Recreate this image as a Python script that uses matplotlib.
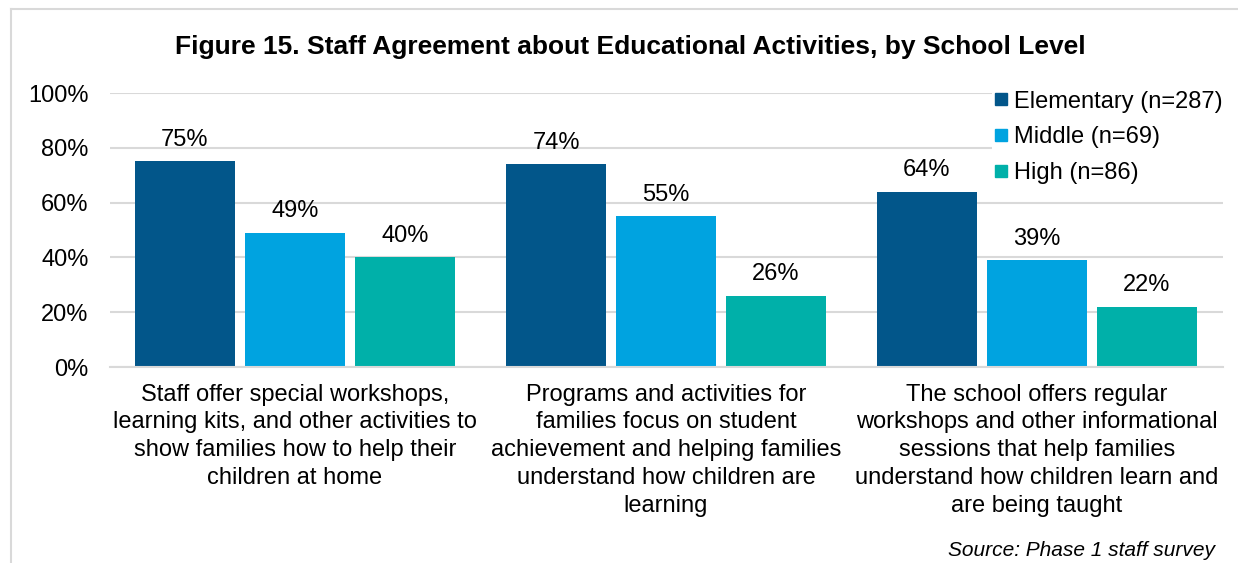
import numpy as np
import matplotlib.pyplot as plt
from matplotlib.lines import Line2D

plt.rcParams['font.family'] = ['Liberation Sans', 'DejaVu Sans']

categories = [
    "Staff offer special workshops,\nlearning kits, and other activities to\nshow families how to help their\nchildren at home",
    "Programs and activities for\nfamilies focus on student\nachievement and helping families\nunderstand how children are\nlearning",
    "The school offers regular\nworkshops and other informational\nsessions that help families\nunderstand how children learn and\nare being taught",
]
series_names = ["Elementary (n=287)", "Middle (n=69)", "High (n=86)"]
elementary = [75, 74, 64]
middle = [49, 55, 39]
high = [40, 26, 22]
colors = ["#02568A", "#00A3E0", "#00B0A9"]

W, H = 1238, 563
fig = plt.figure(figsize=(W / 100, H / 100), dpi=100)
ax = fig.add_axes([109.5 / W, 1 - 367 / H, (1222.5 - 109.5) / W, (367 - 93) / H])

x = np.arange(len(categories))
bw = 100 / 371
step = 110 / 371
for i, (vals, name, c) in enumerate(zip([elementary, middle, high], series_names, colors)):
    pos = x + (i - 1) * step
    ax.bar(pos, vals, width=bw, color=c, label=name, zorder=2)
    for xp, v in zip(pos, vals):
        ax.text(xp, v + 3.8, f"{v}%", ha="center", va="bottom", fontsize=17, color="#000000")

ax.set_xlim(-0.5, 2.5)
ax.set_ylim(0, 100)
ax.set_yticks(range(0, 101, 20))
ax.set_yticklabels([f"{t}%" for t in range(0, 101, 20)], fontsize=17)
ax.set_xticks(x)
ax.set_xticklabels(categories, fontsize=17, linespacing=1.34, va="top")
ax.tick_params(axis="both", length=0)
ax.tick_params(axis="y", pad=15)
ax.tick_params(axis="x", pad=12)
ax.grid(axis="y", color="#D9D9D9", linewidth=1.5, zorder=0)
ax.set_axisbelow(True)
for s in ["top", "right", "left"]:
    ax.spines[s].set_visible(False)
ax.spines["bottom"].set_color("#D9D9D9")
ax.spines["bottom"].set_linewidth(1.5)

handles = [Line2D([], [], marker="s", linestyle="none", markersize=8.5, color=c) for c in colors]
leg = ax.legend(handles, series_names, loc="upper left", bbox_to_anchor=(992 / W, 1 - 87 / H),
                bbox_transform=fig.transFigure, frameon=True, fontsize=17,
                handlelength=0.5, handletextpad=0.3, labelspacing=0.58, borderpad=0.15,
                borderaxespad=0)
leg.get_frame().set_edgecolor("none")
leg.get_frame().set_facecolor("white")
leg.get_frame().set_alpha(1)

fig.text(630 / W, 1 - 47 / H, "Figure 15. Staff Agreement about Educational Activities, by School Level",
         ha="center", va="center", fontsize=19, fontweight="bold")
fig.text(1215 / W, 1 - 551 / H, "Source: Phase 1 staff survey", ha="right", va="center",
         fontsize=15, style="italic")

# outer frame
fig.add_artist(Line2D([11 / W, 1], [1 - 9 / H, 1 - 9 / H], transform=fig.transFigure, color="#D9D9D9", lw=1.5))
fig.add_artist(Line2D([11 / W, 11 / W], [0, 1 - 9 / H], transform=fig.transFigure, color="#D9D9D9", lw=1.5))

fig.savefig("out.png", dpi=100)
